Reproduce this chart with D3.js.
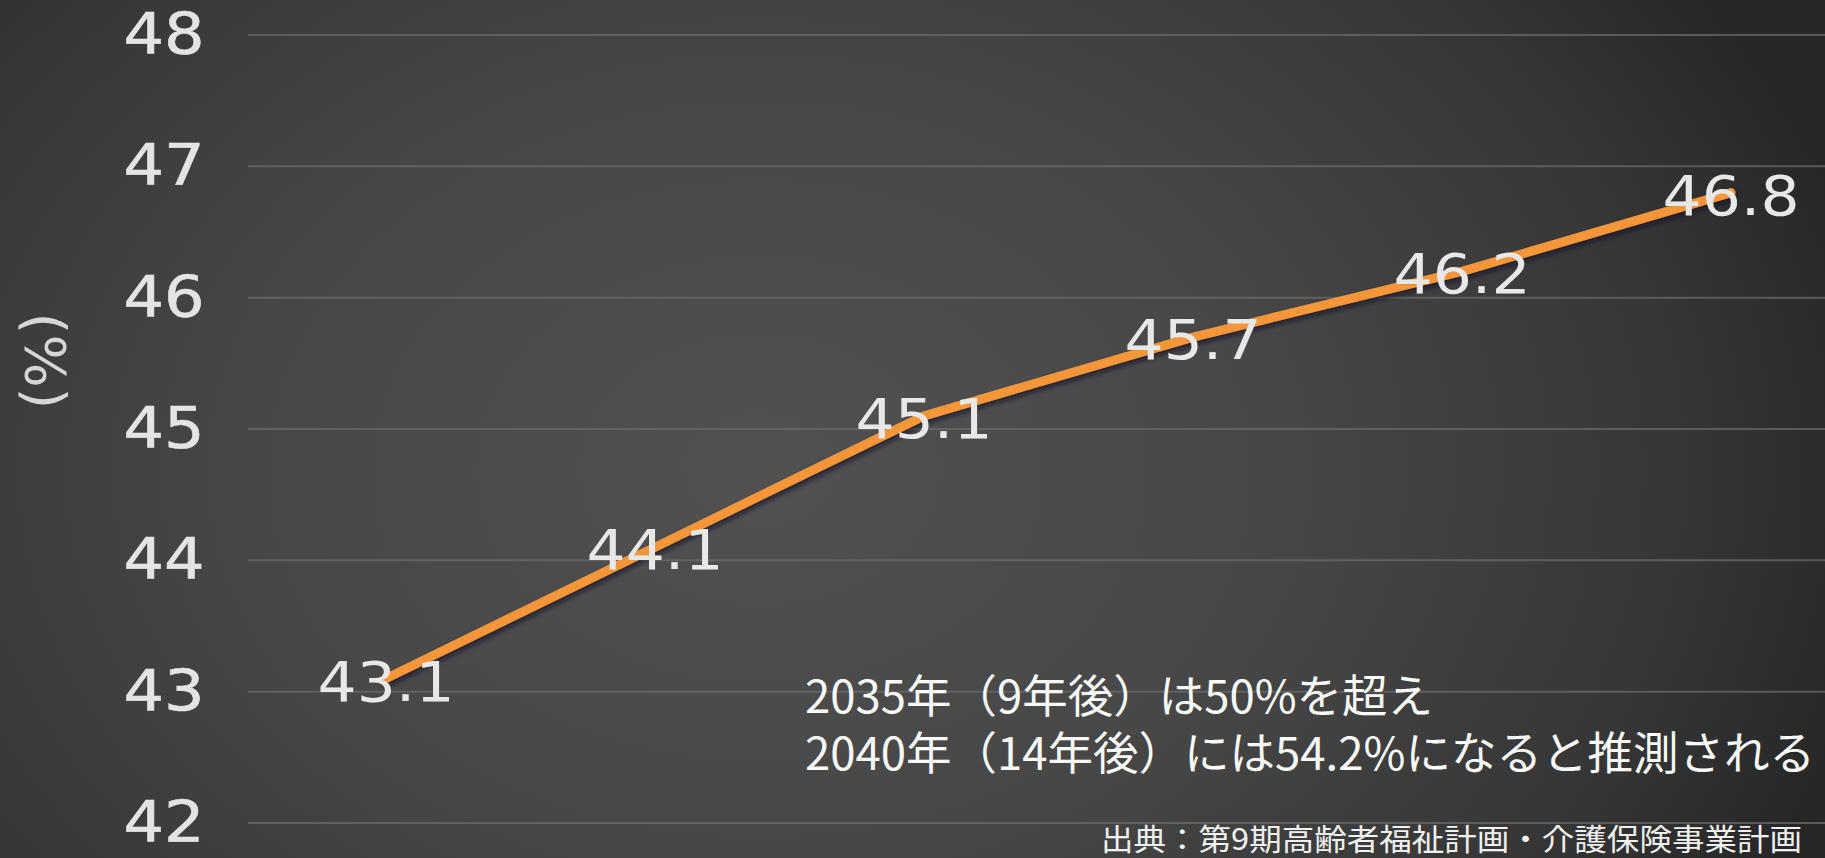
<!DOCTYPE html>
<html>
<head>
<meta charset="utf-8">
<script src="https://cdn.jsdelivr.net/npm/d3@7"></script>
<style>
  html, body { margin: 0; padding: 0; background: #333; }
  svg { display: block; }
</style>
</head>
<body>
<svg id="chart" width="1825" height="858"></svg>
<script>
// ---- data ----
const categories = ["1", "2", "3", "4", "5", "6"];
const values = [43.1, 44.1, 45.1, 45.7, 46.2, 46.8];
const yTicks = [42, 43, 44, 45, 46, 47, 48];
const yUnit = "(%)";
const noteLines = [
  "2035年（9年後）は50%を超え",
  "2040年（14年後）には54.2%になると推測される"
];
const sourceText = "出典：第9期高齢者福祉計画・介護保険事業計画";

// ---- layout ----
const W = 1825, H = 858;
const svg = d3.select("#chart");
const defs = svg.append("defs");

const bg = defs.append("radialGradient").attr("id", "bg")
  .attr("gradientUnits", "userSpaceOnUse")
  .attr("cx", 760).attr("cy", 470).attr("r", 1150)
  .attr("gradientTransform", "translate(760,470) scale(1,0.75) translate(-760,-470)");
bg.append("stop").attr("offset", 0).attr("stop-color", "#515151");
bg.append("stop").attr("offset", 0.45).attr("stop-color", "#474747");
bg.append("stop").attr("offset", 0.8).attr("stop-color", "#363636");
bg.append("stop").attr("offset", 1).attr("stop-color", "#262626");
svg.append("rect").attr("width", W).attr("height", H).attr("fill", "url(#bg)");

const shadow = defs.append("filter").attr("id", "shadow")
  .attr("x", "-10%").attr("y", "-10%").attr("width", "120%").attr("height", "120%");
shadow.append("feDropShadow").attr("dx", 2).attr("dy", 3)
  .attr("stdDeviation", 2.5).attr("flood-color", "#0e1826").attr("flood-opacity", 0.75);

const y = d3.scaleLinear().domain([42, 48]).range([823, 35]);
const x = d3.scalePoint().domain(categories).range([386, 1731]);

// gridlines
svg.append("g").selectAll("line").data(yTicks).join("line")
  .attr("x1", 248).attr("x2", W)
  .attr("y1", d => y(d)).attr("y2", d => y(d))
  .attr("stroke", "#6a6a6a").attr("stroke-width", 2).attr("opacity", 0.75);

// y tick labels
svg.append("g").selectAll("text").data(yTicks).join("text")
  .attr("transform", d => `translate(164,${y(d) + 19}) scale(1.12,1)`)
  .attr("text-anchor", "middle")
  .attr("font-family", "DejaVu Sans")
  .attr("font-size", 57)
  .attr("fill", "#e4e4e4")
  .attr("stroke", "#e4e4e4")
  .attr("stroke-width", 0.6)
  .text(d => d);

// y unit label
svg.append("text")
  .attr("transform", "translate(45,361) rotate(90)")
  .attr("text-anchor", "middle")
  .attr("dominant-baseline", "central")
  .attr("font-family", "DejaVu Sans")
  .attr("font-size", 56)
  .attr("fill", "#d6d6d6")
  .text(yUnit);

// line
const data = categories.map((c, i) => ({ c, v: values[i] }));
const line = d3.line().x(d => x(d.c)).y(d => y(d.v));
svg.append("path").datum(data)
  .attr("d", line)
  .attr("fill", "none")
  .attr("stroke", "#f6963a")
  .attr("stroke-width", 9)
  .attr("stroke-linejoin", "round")
  .attr("stroke-linecap", "round")
  .attr("filter", "url(#shadow)");

// data labels
svg.append("g").selectAll("text").data(data).join("text")
  .attr("transform", d => `translate(${x(d.c)},${y(d.v) + 22}) scale(1.12,1)`)
  .attr("text-anchor", "middle")
  .attr("font-family", "DejaVu Sans")
  .attr("font-size", 55)
  .attr("fill", "#e8e8e8")
  .text(d => d.v.toFixed(1));

// annotation
const noteWidths = [628, 1010];
svg.append("g").selectAll("text").data(noteLines).join("text")
  .attr("x", 805)
  .attr("y", (d, i) => 713 + i * 57)
  .attr("font-family", "Noto Sans CJK JP")
  .attr("font-size", 45)
  .attr("fill", "#fafafa")
  .attr("textLength", (d, i) => noteWidths[i])
  .attr("lengthAdjust", "spacingAndGlyphs")
  .text(d => d);

// source
svg.append("text")
  .attr("x", 1101).attr("y", 850)
  .attr("font-family", "Noto Sans CJK JP")
  .attr("font-size", 30)
  .attr("fill", "#f2f2f2")
  .attr("textLength", 701)
  .attr("lengthAdjust", "spacingAndGlyphs")
  .text(sourceText);
</script>
</body>
</html>
